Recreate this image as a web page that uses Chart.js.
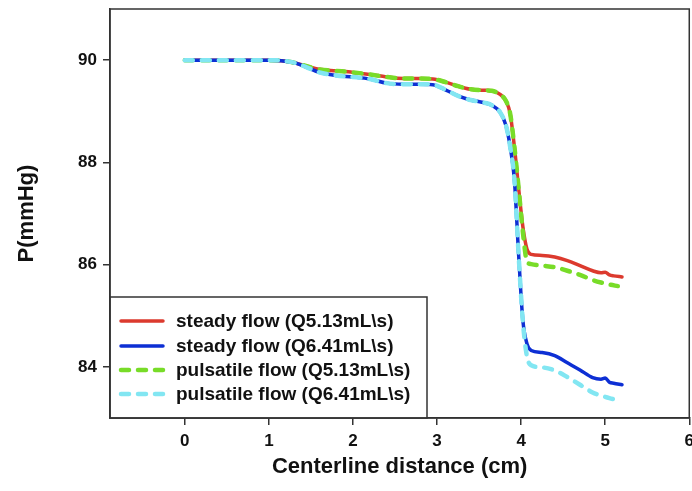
<!DOCTYPE html>
<html>
<head>
<meta charset="utf-8">
<script src="https://cdn.jsdelivr.net/npm/chart.js@4.4.1/dist/chart.umd.min.js"></script>
<style>
  html, body { margin: 0; padding: 0; background: #fff; overflow: hidden; }
</style>
</head>
<body>
<canvas id="pressureChart" width="700" height="491"></canvas>
<script>
// distances along the centerline (cm)
const distSteady = [0, 0.5, 1.0, 1.15, 1.3, 1.45, 1.6, 1.8, 2.0, 2.2, 2.4, 2.6, 2.8, 2.95, 3.1, 3.25, 3.4, 3.55, 3.65, 3.75, 3.82, 3.87, 3.92, 3.97, 4.02, 4.07, 4.12, 4.25, 4.4, 4.55, 4.7, 4.85, 4.95, 5.0, 5.05, 5.1, 5.2];
const distPulsatile = [0, 0.5, 1.0, 1.15, 1.3, 1.45, 1.6, 1.8, 2.0, 2.2, 2.4, 2.6, 2.8, 2.95, 3.1, 3.25, 3.4, 3.55, 3.65, 3.75, 3.82, 3.87, 3.92, 3.97, 4.02, 4.07, 4.12, 4.25, 4.4, 4.55, 4.7, 4.85, 4.95, 5.05, 5.15];

// pressure (mmHg)
const steady513 = [90, 90, 90, 89.99, 89.95, 89.88, 89.82, 89.79, 89.76, 89.72, 89.67, 89.64, 89.64, 89.63, 89.57, 89.49, 89.43, 89.41, 89.40, 89.33, 89.2, 88.95, 88.3, 87.5, 86.75, 86.3, 86.2, 86.18, 86.15, 86.08, 85.98, 85.88, 85.84, 85.85, 85.80, 85.78, 85.76];
const steady641 = [90, 90, 90, 89.99, 89.95, 89.86, 89.76, 89.70, 89.67, 89.63, 89.55, 89.53, 89.53, 89.52, 89.42, 89.30, 89.22, 89.17, 89.12, 88.98, 88.72, 88.3, 87.66, 86.2, 84.92, 84.45, 84.32, 84.28, 84.22, 84.08, 83.94, 83.79, 83.76, 83.78, 83.70, 83.68, 83.65];
const pulsatile513 = [90, 90, 90, 89.99, 89.95, 89.88, 89.82, 89.79, 89.76, 89.72, 89.67, 89.64, 89.64, 89.63, 89.57, 89.49, 89.43, 89.41, 89.40, 89.33, 89.2, 88.95, 88.3, 87.5, 86.65, 86.06, 86.01, 85.98, 85.95, 85.88, 85.8, 85.7, 85.65, 85.61, 85.58];
const pulsatile641 = [90, 90, 90, 89.99, 89.95, 89.86, 89.76, 89.70, 89.67, 89.63, 89.55, 89.53, 89.53, 89.52, 89.42, 89.30, 89.22, 89.17, 89.12, 88.98, 88.72, 88.3, 87.66, 86.2, 84.9, 84.2, 84.03, 83.99, 83.93, 83.8, 83.65, 83.5, 83.44, 83.39, 83.35];

const seriesLabels = ['steady flow (Q5.13mL\\s)', 'steady flow (Q6.41mL\\s)', 'pulsatile flow (Q5.13mL\\s)', 'pulsatile flow (Q6.41mL\\s)'];
const xTicks = [0, 1, 2, 3, 4, 5, 6];
const yTicks = [84, 86, 88, 90];

const FONT = '"Liberation Sans", Arial, Helvetica, sans-serif';
const frameColor = '#333';

function toPoints(xs, ys) {
    return xs.map((x, i) => ({ x: x, y: ys[i] }));
}

// styles used by the lines and the legend
const styles = [
    { color: '#dc3a2e', width: 3.5, dash: [] },
    { color: '#0d2fd4', width: 3.5, dash: [] },
    { color: '#78dc28', width: 4.5, dash: [8, 9] },
    { color: '#82e6f2', width: 4.5, dash: [8, 9] }
];

const datasets = [
    { data: toPoints(distSteady, steady513), order: 3 },
    { data: toPoints(distSteady, steady641), order: 1 },
    { data: toPoints(distPulsatile, pulsatile513), order: 2 },
    { data: toPoints(distPulsatile, pulsatile641), order: 0 }
].map((d, i) => Object.assign(d, {
    label: seriesLabels[i],
    borderColor: styles[i].color,
    borderWidth: styles[i].width,
    borderDash: styles[i].dash,
    borderCapStyle: 'round',
    borderJoinStyle: 'round',
    pointRadius: 0,
    fill: false,
    cubicInterpolationMode: 'monotone'
}));

// full box around the plot area plus the legend inside it
const framePlugin = {
    id: 'frame',
    afterDraw(chart) {
        const ctx = chart.ctx;
        const a = chart.chartArea;
        ctx.save();

        // legend box
        const lx = a.left, ly = 297, lw = 317, lh = a.bottom - 297;
        ctx.fillStyle = '#fff';
        ctx.fillRect(lx, ly, lw, lh);
        ctx.strokeStyle = frameColor;
        ctx.lineWidth = 1.5;
        ctx.strokeRect(lx, ly, lw, lh);

        const rows = [321, 346, 370, 394];
        ctx.font = 'bold 19px ' + FONT;
        ctx.textBaseline = 'middle';
        ctx.textAlign = 'left';
        rows.forEach((y, i) => {
            ctx.beginPath();
            ctx.strokeStyle = styles[i].color;
            ctx.lineWidth = styles[i].width;
            ctx.lineCap = 'round';
            ctx.setLineDash(styles[i].dash);
            ctx.moveTo(121, y);
            ctx.lineTo(163, y);
            ctx.stroke();
            ctx.setLineDash([]);
            ctx.fillStyle = '#111';
            ctx.fillText(seriesLabels[i], 176, y + 1);
        });

        // plot frame
        ctx.strokeStyle = frameColor;
        ctx.lineWidth = 1.5;
        ctx.strokeRect(a.left, a.top, a.right - a.left, a.bottom - a.top);
        ctx.restore();
    }
};

const ctx = document.getElementById('pressureChart').getContext('2d');
const pressureChart = new Chart(ctx, {
    type: 'line',
    data: { datasets: datasets },
    options: {
        responsive: false,
        animation: false,
        devicePixelRatio: 1,
        layout: { padding: { left: 0, top: 9, right: 10, bottom: 0 } },
        plugins: {
            legend: { display: false },
            tooltip: { enabled: false }
        },
        scales: {
            x: {
                type: 'linear',
                min: -0.89,
                max: 6,
                afterBuildTicks: scale => { scale.ticks = xTicks.map(v => ({ value: v })); },
                afterFit: scale => { scale.height = 73; },
                grid: { drawOnChartArea: false, drawTicks: true, tickLength: 7, color: frameColor, lineWidth: 1.5 },
                border: { display: true, color: frameColor, width: 1.5 },
                ticks: { color: '#111', padding: 6, font: { family: FONT, size: 17, weight: 'bold' }, maxRotation: 0 },
                title: {
                    display: true,
                    text: 'Centerline distance (cm)',
                    color: '#111',
                    font: { family: FONT, size: 22, weight: 'bold' },
                    padding: { top: 0, bottom: 11 }
                }
            },
            y: {
                type: 'linear',
                min: 83,
                max: 91,
                afterBuildTicks: scale => { scale.ticks = yTicks.map(v => ({ value: v })); },
                afterFit: scale => {
                    scale.width = 110;
                    scale.paddingTop = 0;
                    scale.paddingBottom = 0;
                },
                grid: { drawOnChartArea: false, drawTicks: true, tickLength: 7, color: frameColor, lineWidth: 1.5 },
                border: { display: true, color: frameColor, width: 1.5 },
                ticks: { color: '#111', padding: 6, font: { family: FONT, size: 17, weight: 'bold' } },
                title: {
                    display: true,
                    text: 'P(mmHg)',
                    color: '#111',
                    font: { family: FONT, size: 22, weight: 'bold' },
                    padding: { top: 14, bottom: 0 }
                }
            }
        }
    },
    plugins: [framePlugin]
});
</script>
</body>
</html>
